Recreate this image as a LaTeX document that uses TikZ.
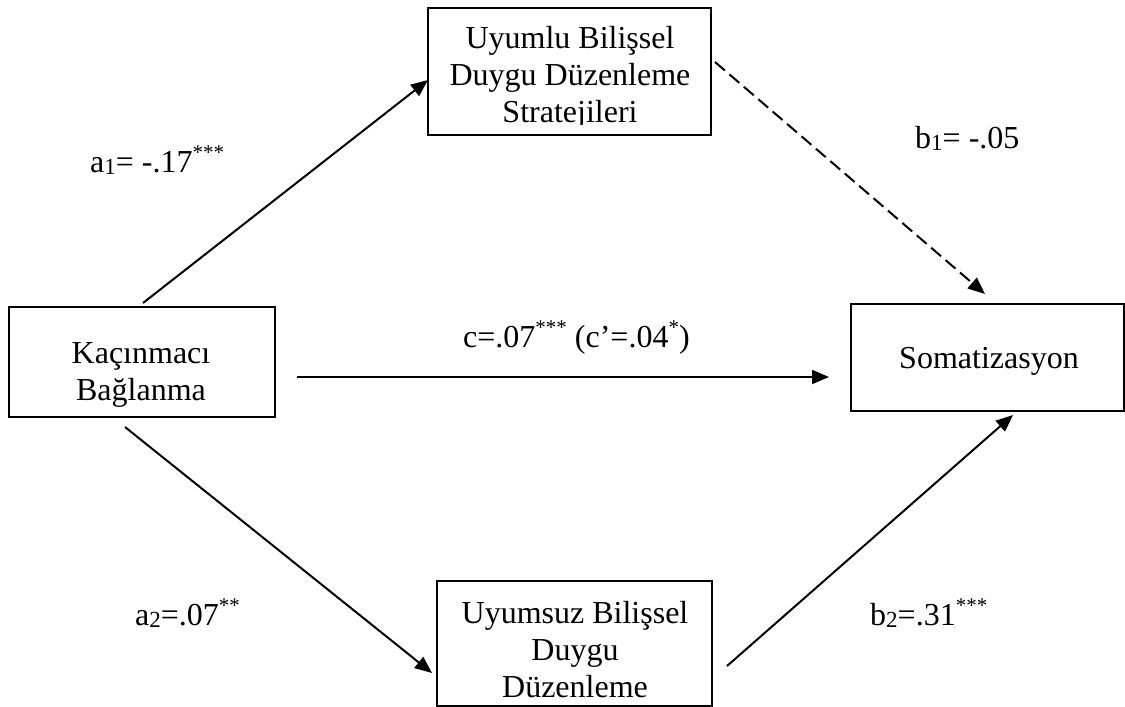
\documentclass[tikz,border=0pt]{standalone}
\usepackage{fontspec}
\setmainfont{Liberation Serif}
\usetikzlibrary{arrows.meta,calc}
\newcommand{\sbx}[1]{\raisebox{-2.5pt}{\fontsize{23}{23}\selectfont #1}}
\newcommand{\spx}[1]{\raisebox{13pt}{\fontsize{21}{21}\selectfont #1}}
\begin{document}
\begin{tikzpicture}[x=1pt,y=-1pt,
  box/.style={draw, line width=1.7pt, inner sep=0pt, outer sep=0pt},
  txt/.style={anchor=base, inner sep=0pt, font=\fontsize{32}{37}\selectfont},
  lbl/.style={anchor=base west, inner sep=0pt, font=\fontsize{32}{37}\selectfont},
  arr/.style={line width=2pt, -{Triangle[length=17pt,width=14pt]}},
  dsh/.style={arr, dash pattern=on 13pt off 6pt}]
\useasboundingbox (0,0) rectangle (1125,707);
% boxes
\node[box, minimum width=283pt, minimum height=127pt] (m1) at (569.5,71.5) {};
\node[box, minimum width=266pt, minimum height=110pt] (kb) at (142,362) {};
\node[box, minimum width=273pt, minimum height=107pt] (som) at (987.5,357.5) {};
\node[box, minimum width=275pt, minimum height=125pt] (m2) at (574.5,643.5) {};
% box texts
\node[txt] (m1a) at (570,48) {Uyumlu Bilişsel};
\node[txt] (m1b) at (570,85) {Duygu Düzenleme};
\node[txt] (m1c) at (570,122) {Stratejileri};
\fill[white] (430,125) rectangle (709,133.5);
\node[txt] (kba) at (141,363) {Kaçınmacı};
\node[txt] (kbb) at (141,400) {Bağlanma};
\node[txt] (soma) at (989,368) {Somatizasyon};
\node[txt] (m2a) at (575,623) {Uyumsuz Bilişsel};
\node[txt] (m2b) at (575,660) {Duygu};
\node[txt] (m2c) at (575,697) {Düzenleme};
% connectors
\draw[arr] ($(kb.north)+(1,-4)$) -- ($(m1.west)+(0,8.5)$);
\draw[dsh] ($(m1.east)+(4,-9.5)$) -- ($(som.north)+(-2.5,-10)$);
\draw[arr] ($(kb.east)+(22,15)$) -- ($(som.west)+(-22,19.5)$);
\draw[arr] ($(kb.south)+(-17,10)$) -- ($(m2.west)+(-5,29.5)$);
\draw[arr] ($(m2.east)+(15,22.5)$) -- ($(som.south)+(25.5,4)$);
% labels
\node[lbl] (la1) at (90,172) {a\sbx{1}= -.17\spx{***}};
\node[lbl] (lb1) at (915,148) {b\sbx{1}= -.05};
\node[lbl] (lc) at (463,347) {c=.07\spx{***} (c’=.04\spx{*})};
\node[lbl] (la2) at (135,625) {a\sbx{2}=.07\spx{**}};
\node[lbl] (lb2) at (870,625) {b\sbx{2}=.31\spx{***}};
\end{tikzpicture}
\end{document}
